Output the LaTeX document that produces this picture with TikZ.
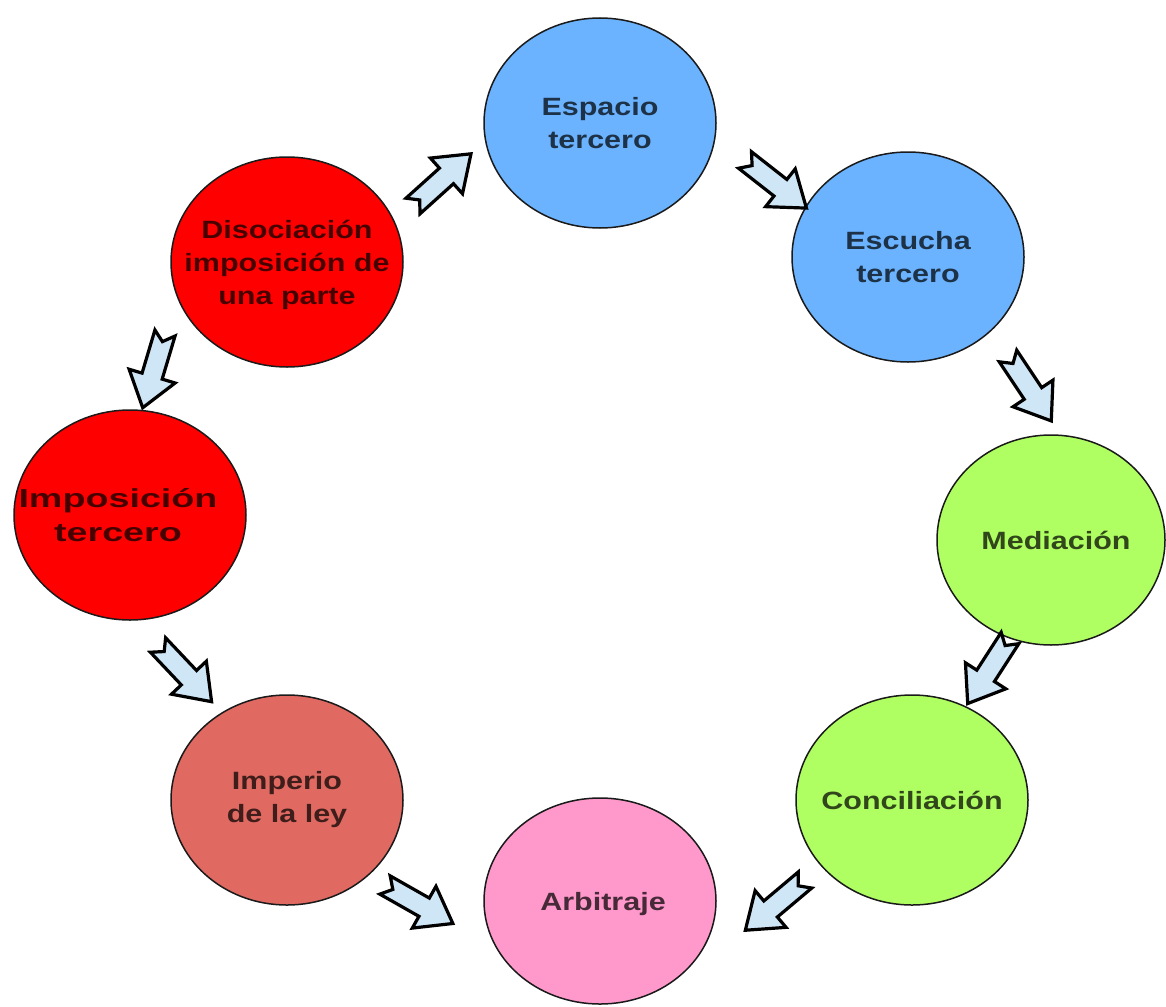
\documentclass[tikz,border=0pt]{standalone}
\usepackage{fontspec}
\usetikzlibrary{shapes.geometric,calc}
\newfontfamily\labelfont{Liberation Sans}[FakeStretch=1.22]
\newfontfamily\widelabelfont{Liberation Sans}[FakeStretch=1.45]

\definecolor{cblue}{HTML}{6BB3FF}
\definecolor{cgreen}{HTML}{B0FF62}
\definecolor{cred}{HTML}{FF0000}
\definecolor{cbrick}{HTML}{E06A62}
\definecolor{cpink}{HTML}{FF99CC}
\definecolor{arrowfill}{HTML}{CFE6F7}
\definecolor{edge}{HTML}{1A1A1A}

\tikzset{
  stage/.style={ellipse, draw=edge, line width=1.5pt, inner sep=0pt,
    minimum width=232pt, minimum height=210pt},
  stagetext/.style={align=center, text=black, text opacity=0.72, inner sep=0pt,
    font=\labelfont\bfseries\fontsize{25}{33}\selectfont},
  widetext/.style={stagetext,
    font=\widelabelfont\bfseries\fontsize{26}{34}\selectfont},
  flowarrow/.style={draw=black, line width=3.2pt, fill=arrowfill, line join=miter},
  pics/blockarrow/.style={code={
    \draw[flowarrow] (0,10.5) -- (45,10.5) -- (45,24) -- (78,0) -- (45,-24)
      -- (45,-10.5) -- (0,-10.5) -- (9,0) -- cycle;
  }}
}

% block arrow from a tail coordinate, pointing towards a tip coordinate
\newcommand\stepflow[2]{%
  \path let \p1=(#1), \p2=(#2), \n1={atan2(\y2-\y1,\x2-\x1)} in
    pic[rotate=\n1] at (\p1) {blockarrow};}

\begin{document}
\begin{tikzpicture}[x=1pt, y=1pt]
  \useasboundingbox (0,0) rectangle (1166,-1006);

  \node[stage, fill=cblue,
    label={[stagetext]center:Espacio\\tercero}] (espacio) at (600,-123) {};
  \node[stage, fill=cblue,
    label={[stagetext]center:Escucha\\tercero}] (escucha) at (908,-257) {};
  \node[stage, fill=cgreen, minimum width=228pt,
    label={[stagetext, xshift=5pt]center:Mediación}] (mediacion) at (1051,-540) {};
  \node[stage, fill=cgreen,
    label={[stagetext]center:Conciliación}] (concilia) at (912,-800) {};
  \node[stage, fill=cpink, minimum height=206pt,
    label={[stagetext, xshift=3pt, yshift=-3pt]center:Arbitraje}] (arbitraje) at (600,-901) {};
  \node[stage, fill=cbrick,
    label={[stagetext]center:Imperio\\de la ley}] (imperio) at (287,-800) {};
  \node[stage, fill=cred,
    label={[widetext, xshift=-12pt]center:Imposición\\tercero}] (imposicion) at (130,-515) {};
  \node[stage, fill=cred,
    label={[stagetext, yshift=-3pt]center:Disociación\\imposición de\\una parte}] (disocia) at (287,-262) {};

  % tails and tips of the flow arrows
  \coordinate (t1) at (413,-206);  \coordinate (h1) at (473,-152);
  \coordinate (t2) at (745,-160);  \coordinate (h2) at (805,-207);
  \coordinate (t3) at (1008,-356); \coordinate (h3) at (1052,-422);
  \coordinate (t4) at (1010,-638); \coordinate (h4) at (970,-700);
  \coordinate (t5) at (805,-880);  \coordinate (h5) at (748,-928);
  \coordinate (t6) at (385,-885);  \coordinate (h6) at (452,-923);
  \coordinate (t7) at (158,-645);  \coordinate (h7) at (210,-700);
  \coordinate (t8) at (165,-333);  \coordinate (h8) at (145,-400);

  \stepflow{t1}{h1}
  \stepflow{t2}{h2}
  \stepflow{t3}{h3}
  \stepflow{t4}{h4}
  \stepflow{t5}{h5}
  \stepflow{t6}{h6}
  \stepflow{t7}{h7}
  \stepflow{t8}{h8}
\end{tikzpicture}
\end{document}
